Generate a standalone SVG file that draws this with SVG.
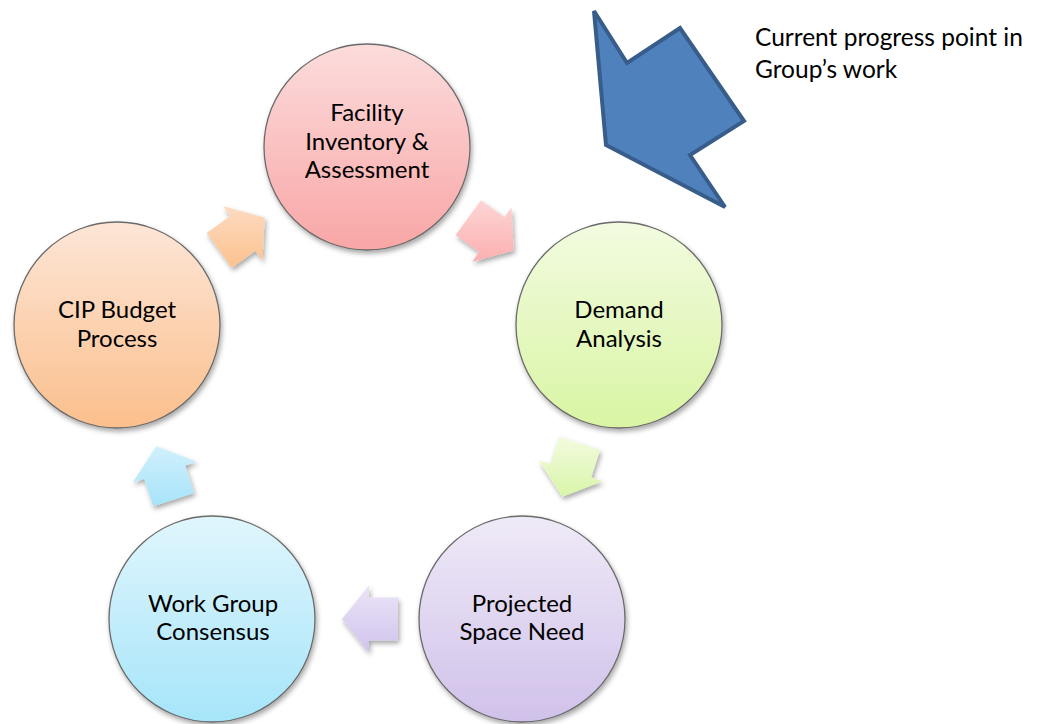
<svg xmlns="http://www.w3.org/2000/svg" width="1039" height="724" viewBox="0 0 1039 724">
  <defs>
    <style>
      .label { font-family: Lato, "Liberation Sans", sans-serif; font-size: 24px; fill: #000; text-anchor: middle; }
      .note { font-family: Lato, "Liberation Sans", sans-serif; font-size: 24.5px; fill: #000; }
      .disc { stroke: #6b6b6b; stroke-width: 1.3; }
    </style>
    <filter id="shadow" x="-20%" y="-20%" width="140%" height="140%">
      <feDropShadow dx="1.5" dy="3" stdDeviation="2.5" flood-color="#000" flood-opacity="0.35"/>
    </filter>
    <!-- disc fills -->
    <linearGradient id="gPink" x1="0" y1="0" x2="0" y2="1">
      <stop offset="0" stop-color="#fcdcdc"/><stop offset="1" stop-color="#f9a6a6"/>
    </linearGradient>
    <linearGradient id="gGreen" x1="0" y1="0" x2="0" y2="1">
      <stop offset="0" stop-color="#f2fbe0"/><stop offset="1" stop-color="#d9f5a3"/>
    </linearGradient>
    <linearGradient id="gPurple" x1="0" y1="0" x2="0" y2="1">
      <stop offset="0" stop-color="#efeaf7"/><stop offset="1" stop-color="#d0c1ea"/>
    </linearGradient>
    <linearGradient id="gBlue" x1="0" y1="0" x2="0" y2="1">
      <stop offset="0" stop-color="#e0f6fc"/><stop offset="1" stop-color="#a6e5fa"/>
    </linearGradient>
    <linearGradient id="gOrange" x1="0" y1="0" x2="0" y2="1">
      <stop offset="0" stop-color="#fde6d7"/><stop offset="1" stop-color="#fbbf8c"/>
    </linearGradient>
    <!-- arrow fills, oriented to run top-to-bottom on screen inside each rotated frame -->
    <linearGradient id="aPink" gradientUnits="userSpaceOnUse" x1="-17.6" y1="-24.3" x2="17.6" y2="24.3">
      <stop offset="0" stop-color="#fdd3d3"/><stop offset="1" stop-color="#fcaeae"/>
    </linearGradient>
    <linearGradient id="aGreen" gradientUnits="userSpaceOnUse" x1="-28.5" y1="9.3" x2="28.5" y2="-9.3">
      <stop offset="0" stop-color="#f1fbdc"/><stop offset="1" stop-color="#d8f5a6"/>
    </linearGradient>
    <linearGradient id="aPurple" gradientUnits="userSpaceOnUse" x1="0" y1="30" x2="0" y2="-30">
      <stop offset="0" stop-color="#e9e3f6"/><stop offset="1" stop-color="#d2c5ed"/>
    </linearGradient>
    <linearGradient id="aBlue" gradientUnits="userSpaceOnUse" x1="28.5" y1="9.3" x2="-28.5" y2="-9.3">
      <stop offset="0" stop-color="#d2f1fc"/><stop offset="1" stop-color="#a9e4fa"/>
    </linearGradient>
    <linearGradient id="aOrange" gradientUnits="userSpaceOnUse" x1="17.6" y1="-24.3" x2="-17.6" y2="24.3">
      <stop offset="0" stop-color="#fddcc3"/><stop offset="1" stop-color="#fcc391"/>
    </linearGradient>
    <!-- block arrow pointing along +x, centred on the origin -->
    <polygon id="blockArrow" points="-28,-21.5 1,-21.5 1,-33.5 28,0 1,33.5 1,21.5 -28,21.5"/>
  </defs>

  <rect width="1039" height="724" fill="#fff"/>

  <!-- cycle arrows between the stages -->
  <g id="connectors">
    <g filter="url(#shadow)">
      <use href="#blockArrow" transform="translate(491,234) rotate(36)" fill="url(#aPink)"/>
    </g>
    <g filter="url(#shadow)">
      <use href="#blockArrow" transform="translate(571,470) rotate(108)" fill="url(#aGreen)"/>
    </g>
    <g filter="url(#shadow)">
      <use href="#blockArrow" transform="translate(370,619) rotate(180)" fill="url(#aPurple)"/>
    </g>
    <g filter="url(#shadow)">
      <use href="#blockArrow" transform="translate(165,473) rotate(252)" fill="url(#aBlue)"/>
    </g>
    <g filter="url(#shadow)">
      <use href="#blockArrow" transform="translate(242,234) rotate(324)" fill="url(#aOrange)"/>
    </g>
  </g>

  <!-- stages -->
  <g id="facility">
    <circle class="disc" cx="367" cy="147" r="103" fill="url(#gPink)" filter="url(#shadow)"/>
    <text class="label" x="367" y="121">Facility</text>
    <text class="label" x="367" y="150">Inventory &amp;</text>
    <text class="label" x="367" y="178">Assessment</text>
  </g>
  <g id="demand">
    <circle class="disc" cx="619" cy="325" r="103" fill="url(#gGreen)" filter="url(#shadow)"/>
    <text class="label" x="619" y="318">Demand</text>
    <text class="label" x="619" y="347">Analysis</text>
  </g>
  <g id="projected">
    <circle class="disc" cx="522" cy="619" r="103" fill="url(#gPurple)" filter="url(#shadow)"/>
    <text class="label" x="522" y="612">Projected</text>
    <text class="label" x="522" y="640">Space Need</text>
  </g>
  <g id="workgroup">
    <circle class="disc" cx="212" cy="619" r="103" fill="url(#gBlue)" filter="url(#shadow)"/>
    <text class="label" x="213" y="612">Work Group</text>
    <text class="label" x="213" y="640">Consensus</text>
  </g>
  <g id="cip">
    <circle class="disc" cx="117" cy="325" r="103" fill="url(#gOrange)" filter="url(#shadow)"/>
    <text class="label" x="117" y="318">CIP Budget</text>
    <text class="label" x="117" y="347">Process</text>
  </g>

  <!-- progress marker -->
  <g id="marker">
    <polygon points="594,11 627,63 680,28 744,121 690,155 725,207 606,145" fill="#4f81bd" stroke="#385d8a" stroke-width="4" stroke-linejoin="miter"/>
  </g>
  <g id="note">
    <text class="note" x="755" y="46">Current progress point in</text>
    <text class="note" x="755" y="78">Group’s work</text>
  </g>
</svg>
